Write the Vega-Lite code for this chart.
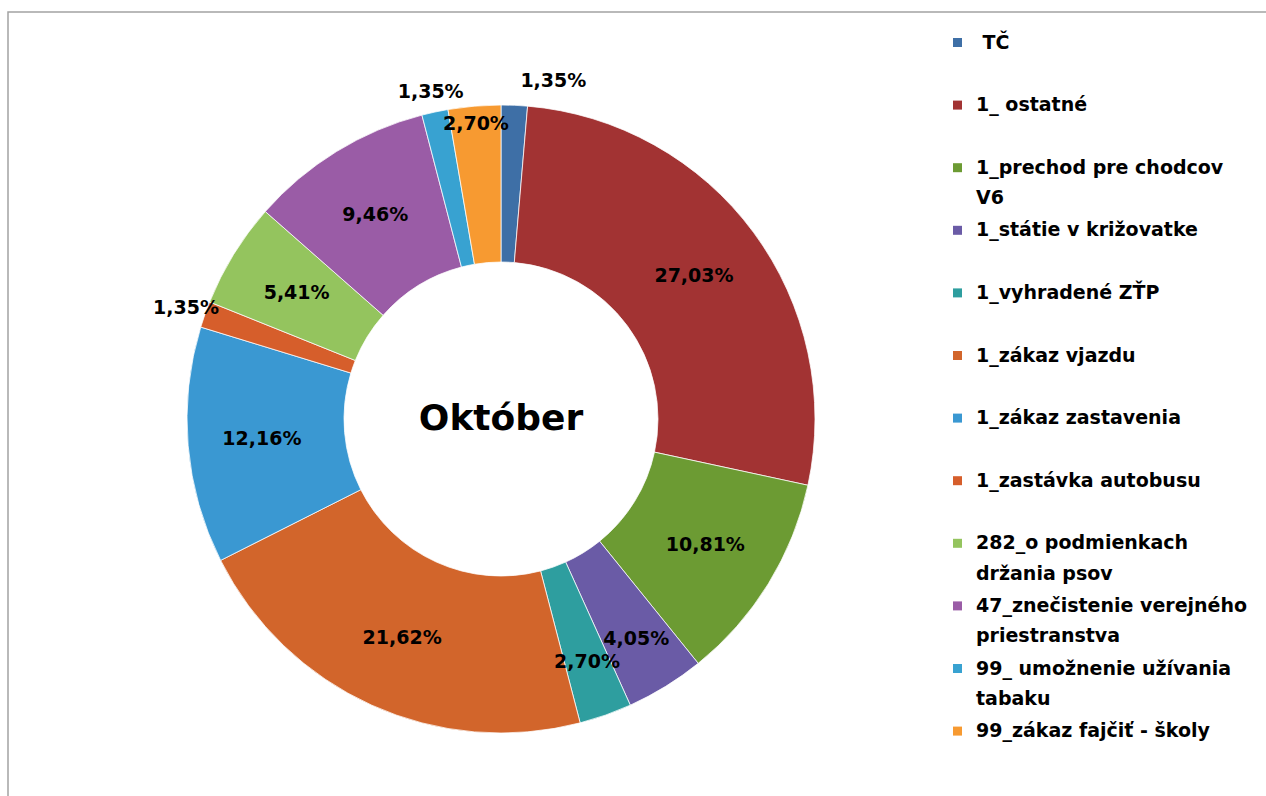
{
  "$schema": "https://vega.github.io/schema/vega-lite/v6.json",
  "width": 1262,
  "height": 790,
  "autosize": {"type": "none"},
  "padding": {"left": 8, "top": 12, "right": -4, "bottom": -6},
  "background": "white",
  "config": {
    "view": {"stroke": "#a3a3a3", "strokeWidth": 1.5},
    "locale": {"number": {"decimal": ",", "thousands": " ", "grouping": [3], "currency": ["", "%"]}},
    "text": {"font": "DejaVu Sans"},
    "style": {"guide-label": {"lineHeight": 30.5}}
  },
  "data": {
    "values": [
      {"idx": 1, "category": "TČ", "value": 1.35},
      {"idx": 2, "category": "1_ ostatné", "value": 27.03},
      {"idx": 3, "category": "1_prechod pre chodcov V6", "value": 10.81},
      {"idx": 4, "category": "1_státie v križovatke", "value": 4.05},
      {"idx": 5, "category": "1_vyhradené ZŤP", "value": 2.70},
      {"idx": 6, "category": "1_zákaz vjazdu", "value": 21.62},
      {"idx": 7, "category": "1_zákaz zastavenia", "value": 12.16},
      {"idx": 8, "category": "1_zastávka autobusu", "value": 1.35},
      {"idx": 9, "category": "282_o podmienkach držania psov", "value": 5.41},
      {"idx": 10, "category": "47_znečistenie verejného priestranstva", "value": 9.46},
      {"idx": 11, "category": "99_ umožnenie užívania tabaku", "value": 1.35},
      {"idx": 12, "category": "99_zákaz fajčiť - školy", "value": 2.70}
    ]
  },
  "encoding": {
    "x": {"datum": 0.39065, "type": "quantitative", "scale": {"domain": [0, 1], "nice": false, "zero": false}, "axis": null},
    "y": {"datum": 0.4848, "type": "quantitative", "scale": {"domain": [0, 1], "nice": false, "zero": false}, "axis": null}
  },
  "layer": [
    {
      "mark": {"type": "arc", "outerRadius": 314, "innerRadius": 157, "stroke": "#ffffff", "strokeWidth": 0.75},
      "encoding": {
        "theta": {"field": "value", "type": "quantitative", "stack": true},
        "order": {"field": "idx", "type": "quantitative", "sort": "ascending"},
        "color": {
          "field": "category",
          "type": "nominal",
          "scale": {
            "domain": ["TČ", "1_ ostatné", "1_prechod pre chodcov V6", "1_státie v križovatke", "1_vyhradené ZŤP", "1_zákaz vjazdu", "1_zákaz zastavenia", "1_zastávka autobusu", "282_o podmienkach držania psov", "47_znečistenie verejného priestranstva", "99_ umožnenie užívania tabaku", "99_zákaz fajčiť - školy"],
            "range": ["#3E6FA6", "#A23333", "#6C9B33", "#6A5BA6", "#2E9E9F", "#D2652B", "#3A98D2", "#D65E2B", "#94C45E", "#9A5CA6", "#38A2D1", "#F79A31"]
          },
          "legend": {
            "orient": "none",
            "legendX": 940,
            "legendY": 21,
            "title": null,
            "padding": 0,
            "symbolType": "square",
            "symbolSize": 81,
            "symbolStrokeWidth": 0,
            "labelFont": "DejaVu Sans",
            "labelFontSize": 19,
            "labelFontWeight": "bold",
            "labelColor": "#000000",
            "labelOffset": 9,
            "labelLimit": 400,
            "labelBaseline": "middle",
            "gridAlign": "all",
            "rowPadding": 12.6,
            "labelExpr": "datum.label == '1_prechod pre chodcov V6' ? ['1_prechod pre chodcov', 'V6'] : datum.label == '282_o podmienkach držania psov' ? ['282_o podmienkach', 'držania psov'] : datum.label == '47_znečistenie verejného priestranstva' ? ['47_znečistenie verejného', 'priestranstva'] : datum.label == '99_ umožnenie užívania tabaku' ? ['99_ umožnenie užívania', 'tabaku'] : datum.label == 'TČ' ? '\u200b\u00a0TČ' : datum.label",
            "encode": {"labels": {"enter": {"lineHeight": {"value": 30.5}}, "update": {"lineHeight": {"value": 30.5}}}}
          }
        }
      }
    },
    {
      "mark": {"type": "text", "radius": 240, "fontSize": 19, "fontWeight": "bold", "font": "DejaVu Sans", "color": "#000000", "align": "center", "baseline": "middle"},
      "encoding": {
        "theta": {"field": "value", "type": "quantitative", "stack": true},
        "order": {"field": "idx", "type": "quantitative", "sort": "ascending"},
        "text": {"field": "value", "type": "quantitative", "format": "$.2f"},
        "opacity": {"condition": {"test": "datum.value >= 5", "value": 1}, "value": 0}
      }
    },
    {
      "mark": {"type": "text", "radius": 258, "fontSize": 19, "fontWeight": "bold", "font": "DejaVu Sans", "color": "#000000", "align": "center", "baseline": "middle"},
      "encoding": {
        "theta": {"field": "value", "type": "quantitative", "stack": true},
        "order": {"field": "idx", "type": "quantitative", "sort": "ascending"},
        "text": {"field": "value", "type": "quantitative", "format": "$.2f"},
        "opacity": {"condition": {"test": "datum.value >= 2 && datum.value < 5 && datum.category != '99_zákaz fajčiť - školy'", "value": 1}, "value": 0}
      }
    },
    {
      "mark": {"type": "text", "radius": 296, "fontSize": 19, "fontWeight": "bold", "font": "DejaVu Sans", "color": "#000000", "align": "center", "baseline": "middle"},
      "encoding": {
        "theta": {"field": "value", "type": "quantitative", "stack": true},
        "order": {"field": "idx", "type": "quantitative", "sort": "ascending"},
        "text": {"field": "value", "type": "quantitative", "format": "$.2f"},
        "opacity": {"condition": {"test": "datum.category == '99_zákaz fajčiť - školy'", "value": 1}, "value": 0}
      }
    },
    {
      "mark": {"type": "text", "radius": 334, "fontSize": 19, "fontWeight": "bold", "font": "DejaVu Sans", "color": "#000000", "align": "center", "baseline": "middle"},
      "encoding": {
        "theta": {"field": "value", "type": "quantitative", "stack": true},
        "order": {"field": "idx", "type": "quantitative", "sort": "ascending"},
        "text": {"field": "value", "type": "quantitative", "format": "$.2f"},
        "opacity": {"condition": {"test": "datum.value < 2 && datum.category != 'TČ'", "value": 1}, "value": 0}
      }
    },
    {
      "mark": {"type": "text", "radius": 338, "dx": 38, "fontSize": 19, "fontWeight": "bold", "font": "DejaVu Sans", "color": "#000000", "align": "center", "baseline": "middle"},
      "encoding": {
        "theta": {"field": "value", "type": "quantitative", "stack": true},
        "order": {"field": "idx", "type": "quantitative", "sort": "ascending"},
        "text": {"field": "value", "type": "quantitative", "format": "$.2f"},
        "opacity": {"condition": {"test": "datum.category == 'TČ'", "value": 1}, "value": 0}
      }
    },
    {
      "data": {"values": [{"month": "Október"}]},
      "mark": {"type": "text", "fontSize": 36, "fontWeight": "bold", "font": "DejaVu Sans", "color": "#000000", "align": "center", "baseline": "middle"},
      "encoding": {
        "text": {"field": "month", "type": "nominal"}
      }
    }
  ]
}
